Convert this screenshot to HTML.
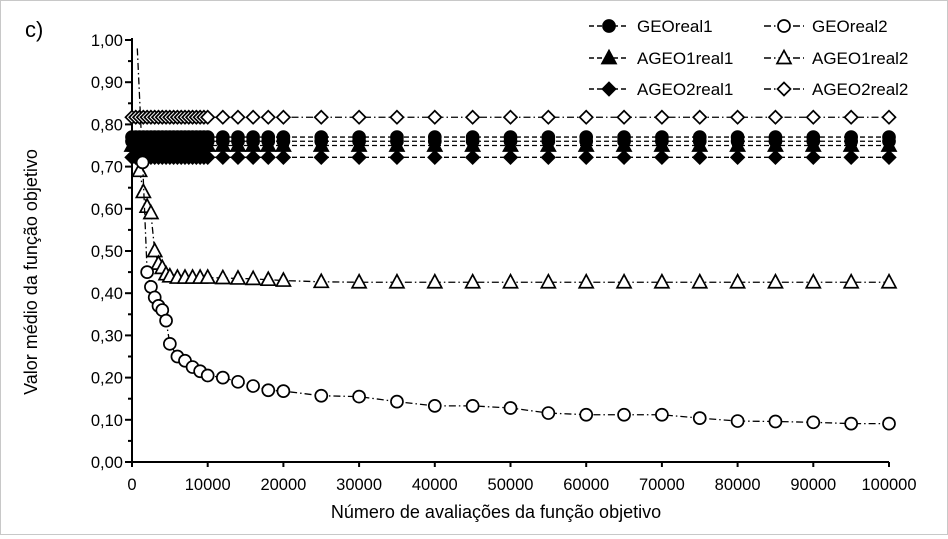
<!DOCTYPE html>
<html><head><meta charset="utf-8"><style>
body{margin:0;background:#fff;}
#wrap{position:relative;width:948px;height:535px;box-sizing:border-box;border:1px solid #c8c8c8;background:#fff;font-family:"Liberation Sans",sans-serif;}
</style></head><body>
<div id="wrap">
<svg id="chart" width="946" height="533" xmlns="http://www.w3.org/2000/svg"></svg>
</div>
<script>
const xDense=[0,500,1000,1500,2000,2500,3000,3500,4000,4500,5000,5500,6000,6500,7000,7500,8000,8500,9000,9500,10000,12000,14000,16000,18000,20000,25000,30000,35000,40000,45000,50000,55000,60000,65000,70000,75000,80000,85000,90000,95000,100000];
const geoReal1=0.77;
const ageo1Real1=0.75;
const ageo2Real1=0.722;
const ageo2Real2=0.817;
const extraReal1=0.76;
const xGeo2=[700,1400,2000,2500,3000,3500,4000,4500,5000,6000,7000,8000,9000,10000,12000,14000,16000,18000,20000,25000,30000,35000,40000,45000,50000,55000,60000,65000,70000,75000,80000,85000,90000,95000,100000];
const geo2=[0.98,0.71,0.45,0.415,0.39,0.37,0.36,0.335,0.28,0.25,0.24,0.225,0.215,0.205,0.2,0.19,0.18,0.17,0.168,0.157,0.155,0.143,0.133,0.133,0.128,0.116,0.112,0.112,0.112,0.104,0.097,0.096,0.094,0.091,0.091];
const xAgeo1r2=[1000,1500,2000,2500,3000,3500,4000,4500,5000,6000,7000,8000,9000,10000,12000,14000,16000,18000,20000,25000,30000,35000,40000,45000,50000,55000,60000,65000,70000,75000,80000,85000,90000,95000,100000];
const ageo1r2=[0.69,0.64,0.605,0.59,0.5,0.47,0.46,0.445,0.44,0.437,0.437,0.437,0.437,0.437,0.436,0.435,0.434,0.432,0.43,0.427,0.426,0.426,0.426,0.426,0.426,0.426,0.426,0.426,0.426,0.426,0.426,0.426,0.426,0.426,0.426];
const xTicks=[0,10000,20000,30000,40000,50000,60000,70000,80000,90000,100000];
const yTicks=[0,0.1,0.2,0.3,0.4,0.5,0.6,0.7,0.8,0.9,1.0];

const svg=document.getElementById('chart');
const NS='http://www.w3.org/2000/svg';
const X0=131,X1=888,Y0=461,Y1=39;
const sx=v=>X0+(v/100000)*(X1-X0);
const sy=v=>Y0-(v/1.0)*(Y0-Y1);
function mk(tag,attrs,parent){const e=document.createElementNS(NS,tag);for(const k in attrs)e.setAttribute(k,attrs[k]);(parent||svg).appendChild(e);return e;}

let ax=mk('line',{x1:X0,y1:Y1-2,x2:X0,y2:Y0,stroke:'#000','stroke-width':2});


let axx=mk('line',{x1:X0,y1:Y0,x2:X1,y2:Y0,stroke:'#000','stroke-width':2});


yTicks.forEach((v,i)=>{
  mk('line',{x1:X0-7,y1:sy(v),x2:X0,y2:sy(v),stroke:'#000','stroke-width':2});
  if(i<yTicks.length-1) mk('line',{x1:X0-4,y1:sy(v+0.05),x2:X0,y2:sy(v+0.05),stroke:'#000','stroke-width':2});
  const t=mk('text',{x:X0-9,y:sy(v)+6,'text-anchor':'end','font-size':16.5,fill:'#000'});
  t.textContent=v.toFixed(2).replace('.',',');
  
  
});
xTicks.forEach(v=>{
  mk('line',{x1:sx(v),y1:Y0,x2:sx(v),y2:Y0+5,stroke:'#000','stroke-width':2});
  const t=mk('text',{x:sx(v),y:Y0+28,'text-anchor':'middle','font-size':16.5,fill:'#000'});
  t.textContent=v;
  
  
});
let xt=mk('text',{x:495,y:517,'text-anchor':'middle','font-size':18,fill:'#000'});xt.textContent='Número de avaliações da função objetivo';


let yt=mk('text',{x:36,y:271,'text-anchor':'middle','font-size':18,fill:'#000',transform:'rotate(-90 36 271)'});yt.textContent='Valor médio da função objetivo';


let pl=mk('text',{x:24,y:36,'font-size':22,fill:'#000'});pl.textContent='c)';



function marker(g,shape,filled,x,y){
  const f=filled?'#000':'#fff',s='#000',w=1.7;
  if(shape==='circle')mk('circle',{cx:x,cy:y,r:6,fill:f,stroke:s,'stroke-width':w},g);
  else if(shape==='tri')mk('polygon',{points:`${x},${y-7.5} ${x-7},${y+5.5} ${x+7},${y+5.5}`,fill:f,stroke:s,'stroke-width':w},g);
  else mk('polygon',{points:`${x},${y-6.5} ${x+6.5},${y} ${x},${y+6.5} ${x-6.5},${y}`,fill:f,stroke:s,'stroke-width':w},g);
}
function series(name,xs,ys,shape,filled,dash,skipFirstMarker){
  const g=mk('g',{});
  
  
  const pts=xs.map((x,i)=>sx(x)+','+sy(ys[i])).join(' ');
  mk('polyline',{points:pts,fill:'none',stroke:'#000','stroke-width':1.3,'stroke-dasharray':dash},g);
  xs.forEach((x,i)=>{if(skipFirstMarker&&i===0)return;marker(g,shape,filled,sx(x),sy(ys[i]));});
}
const D1='5,3',D2='7,3,1.5,3';
series('series-ageo2real2',xDense,xDense.map(()=>ageo2Real2),'diamond',false,D2);
series('series-ageo2real1',xDense,xDense.map(()=>ageo2Real1),'diamond',true,D1);
series('series-extra-real1',xDense,xDense.map(()=>extraReal1),'circle',true,D1);
series('series-ageo1real1',xDense,xDense.map(()=>ageo1Real1),'tri',true,D1);
series('series-georeal1',xDense,xDense.map(()=>geoReal1),'circle',true,D1);
series('series-ageo1real2',xAgeo1r2,ageo1r2,'tri',false,D2);
series('series-georeal2',xGeo2,geo2,'circle',false,D2,true);

const leg=[['GEOreal1','circle',true,D1,588,25],['GEOreal2','circle',false,D2,763,25],
['AGEO1real1','tri',true,D1,588,57],['AGEO1real2','tri',false,D2,763,57],
['AGEO2real1','diamond',true,D1,588,88],['AGEO2real2','diamond',false,D2,763,88]];
leg.forEach(l=>{
  const g=mk('g',{});
  
  
  mk('line',{x1:l[4],y1:l[5],x2:l[4]+40,y2:l[5],stroke:'#000','stroke-width':1.5,'stroke-dasharray':l[3]},g);
  marker(g,l[1],l[2],l[4]+20,l[5]);
  const t=mk('text',{x:l[4]+48,y:l[5]+6,'font-size':17,fill:'#000'},g);t.textContent=l[0];
});
</script>
</body></html>
